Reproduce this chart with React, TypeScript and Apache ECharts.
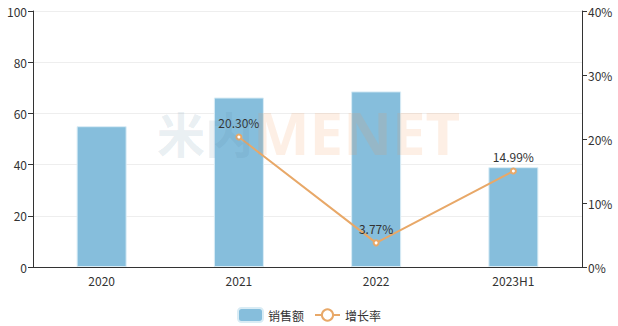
import React, { useEffect, useRef } from "react";
import * as echarts from "echarts";

const categories = ["2020", "2021", "2022", "2023H1"];
const salesValues = [55, 66.2, 68.6, 39];
const growthValues: (number | null)[] = [null, 20.3, 3.77, 14.99];
const leftTicks = { min: 0, max: 100, interval: 20 };
const rightTicks = { min: 0, max: 40, interval: 10 };

export default function App() {
  const ref = useRef<HTMLDivElement>(null);

  useEffect(() => {
    document.body.style.margin = "0";
    if (!ref.current) return;
    const chart = echarts.init(ref.current, null, { renderer: "svg" });
    const axisText = { color: "#333", fontSize: 12, fontFamily: "Noto Sans CJK SC, sans-serif" };
    chart.setOption({
      animation: false,
      textStyle: { fontFamily: "Noto Sans CJK SC, sans-serif" },
      grid: { left: 33, right: 36, top: 11, bottom: 59, containLabel: false },
      graphic: [
        {
          type: "text",
          left: 157,
          top: 108,
          z: 10,
          silent: true,
          style: {
            text: "米内",
            fontSize: 48,
            fontWeight: "bold",
            fill: "rgba(90,135,165,0.15)",
            fontFamily: "Noto Sans CJK SC, sans-serif",
          },
        },
        {
          type: "text",
          left: 253,
          top: 102,
          z: 10,
          silent: true,
          style: {
            text: "MENET",
            fontSize: 60,
            fontWeight: "bold",
            fill: "rgba(240,150,80,0.15)",
            fontFamily: "Noto Sans, sans-serif",
          },
        },
      ],
      legend: {
        top: 302,
        left: "center",
        itemWidth: 25,
        itemHeight: 14,
        itemGap: 10,
        textStyle: { color: "#333", fontSize: 12 },
        data: ["销售额", "增长率"],
      },
      xAxis: {
        type: "category",
        data: categories,
        axisLine: { lineStyle: { color: "#333" } },
        axisTick: { lineStyle: { color: "#333" } },
        axisLabel: { ...axisText, margin: 7 },
      },
      yAxis: [
        {
          type: "value",
          ...leftTicks,
          axisLine: { show: true, lineStyle: { color: "#333" } },
          axisTick: { show: true, lineStyle: { color: "#333" } },
          axisLabel: { ...axisText, margin: 6 },
          splitLine: { lineStyle: { color: "#eee" } },
        },
        {
          type: "value",
          ...rightTicks,
          position: "right",
          axisLine: { show: true, lineStyle: { color: "#333" } },
          axisTick: { show: true, lineStyle: { color: "#333" } },
          axisLabel: { ...axisText, margin: 6, formatter: "{value}%" },
          splitLine: { show: false },
        },
      ],
      series: [
        {
          name: "销售额",
          type: "bar",
          data: salesValues,
          barWidth: 50,
          z: 2,
          itemStyle: { color: "#86bedc", borderColor: "#d9ecf5", borderWidth: 1 },
        },
        {
          name: "增长率",
          type: "line",
          yAxisIndex: 1,
          data: growthValues,
          z: 3,
          symbol: "emptyCircle",
          symbolSize: 5,
          lineStyle: { color: "#e8a868", width: 2 },
          itemStyle: { color: "#e8a868", borderWidth: 1 },
          label: {
            show: true,
            position: "top",
            color: "#333",
            fontSize: 12,
            formatter: (p: any) => (p.value == null ? "" : `${p.value.toFixed(2)}%`),
          },
        },
      ],
    });
    return () => chart.dispose();
  }, []);

  return <div ref={ref} style={{ width: 618, height: 326 }} />;
}
